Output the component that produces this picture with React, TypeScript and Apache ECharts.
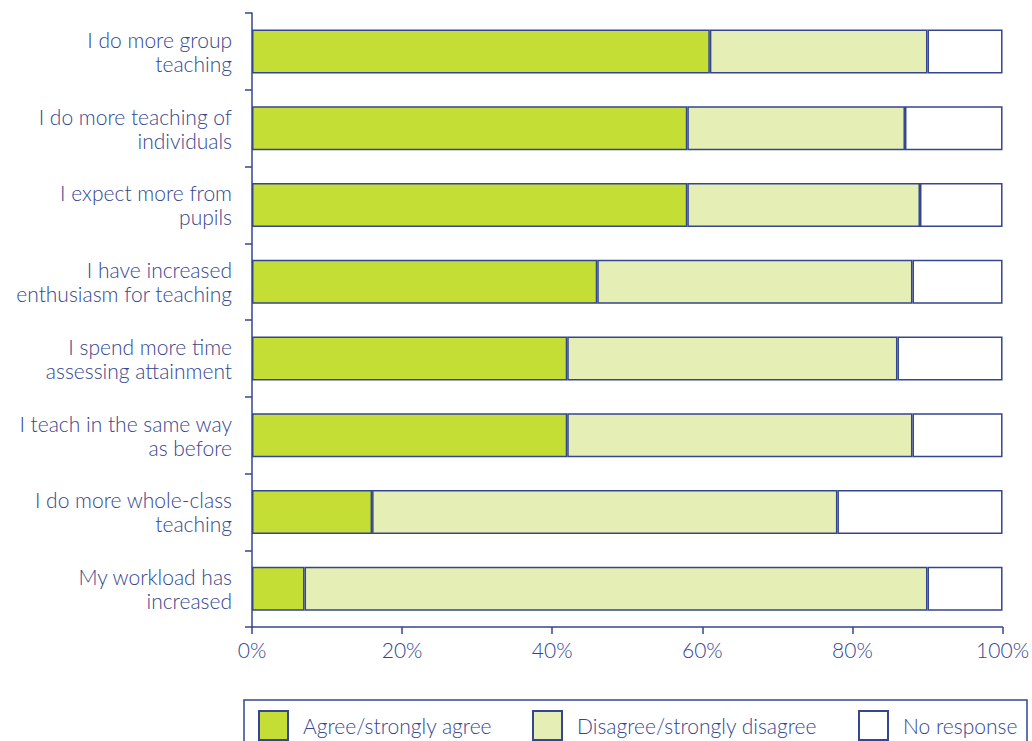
import React, { useEffect, useRef } from "react";
import * as echarts from "echarts";

const categories = [
  "I do more group\nteaching",
  "I do more teaching of\nindividuals",
  "I expect more from\npupils",
  "I have increased\nenthusiasm for teaching",
  "I spend more time\nassessing attainment",
  "I teach in the same way\nas before",
  "I do more whole-class\nteaching",
  "My workload has\nincreased",
];
const agree = [61, 58, 58, 46, 42, 42, 16, 7];
const disagree = [29, 29, 31, 42, 44, 46, 62, 83];
const noResponse = [10, 13, 11, 12, 14, 12, 22, 10];
const seriesNames = ["Agree/strongly agree", "Disagree/strongly disagree", "No response"];
const xTicks = [0, 20, 40, 60, 80, 100];

const NAVY = "#34468f";
const FONT = "Lato, 'Open Sans', sans-serif";
const COLORS = ["#c5de35", "#e5eeb5", "#ffffff"];

export default function App() {
  const ref = useRef<HTMLDivElement>(null);
  useEffect(() => {
    if (!ref.current) return;
    const chart = echarts.init(ref.current, undefined, { renderer: "svg" });
    const values = [agree, disagree, noResponse];
    const legendLefts = [258, 532, 858];
    chart.setOption({
      animation: false,
      grid: { left: 252, right: 25, top: 13, bottom: 114 },
      xAxis: {
        type: "value",
        min: xTicks[0],
        max: xTicks[xTicks.length - 1],
        interval: 20,
        axisLine: { show: true, lineStyle: { color: NAVY, width: 1.5 } },
        axisTick: { show: true, length: 7, lineStyle: { color: NAVY, width: 1.5 } },
        splitLine: { show: false },
        axisLabel: {
          formatter: "{value}%",
          color: NAVY,
          fontSize: 21,
          fontWeight: 300,
          fontFamily: FONT,
          margin: 12,
        },
      },
      yAxis: {
        type: "category",
        data: categories,
        inverse: true,
        axisLine: { show: true, lineStyle: { color: NAVY, width: 1.5 } },
        axisTick: { show: true, length: 7, alignWithLabel: false, lineStyle: { color: NAVY, width: 1.5 } },
        axisLabel: {
          color: NAVY,
          fontSize: 21,
          fontWeight: 300,
          lineHeight: 24,
          fontFamily: FONT,
          margin: 20,
          align: "right",
        },
      },
      legend: legendLefts.map((l, i) => ({
        left: l,
        top: 710,
        padding: 0,
        data: [seriesNames[i]],
        itemWidth: 29,
        itemHeight: 29,
        icon: "rect",
        textStyle: { color: NAVY, fontSize: 21, fontWeight: 300, fontFamily: FONT, padding: [0, 0, 0, 10] },
        selectedMode: false,
      })),
      graphic: [
        {
          type: "rect",
          shape: { x: 244, y: 700, width: 783, height: 60 },
          style: { fill: "none", stroke: NAVY, lineWidth: 1.5 },
          silent: true,
        },
      ],
      series: seriesNames.map((name, i) => ({
        name,
        type: "bar",
        stack: "total",
        data: values[i],
        barWidth: 44,
        itemStyle: { color: COLORS[i], borderColor: NAVY, borderWidth: 1.5 },
      })),
    });
    return () => chart.dispose();
  }, []);
  return (
    <div
      ref={ref}
      style={{ position: "absolute", left: 0, top: 0, width: 1032, height: 741 }}
    />
  );
}
